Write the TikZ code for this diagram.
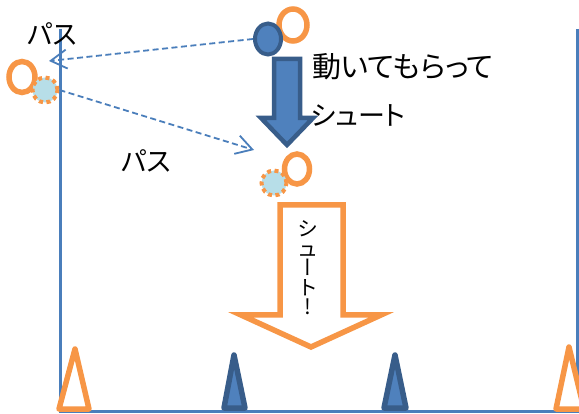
\documentclass[tikz,border=0pt]{standalone}
\usepackage{fontspec}
\newfontfamily\jp[RawFeature=+palt]{Noto Sans CJK JP}
\newfontfamily\jpv[RawFeature=+vert]{Noto Sans CJK JP}
\usetikzlibrary{arrows.meta,shapes.geometric}
\definecolor{fieldline}{HTML}{4A7EBB}
\definecolor{bluefill}{HTML}{4F81BD}
\definecolor{bluedark}{HTML}{385D8A}
\definecolor{orangec}{HTML}{F79646}
\definecolor{ballfill}{HTML}{B7DEE8}
\tikzset{
  field/.style={draw=fieldline,line width=3pt},
  ring/.style={ellipse,draw=orangec,line width=5.5pt,fill=white,inner sep=0pt},
  defender/.style={ellipse,draw=bluedark,line width=4pt,fill=bluefill,inner sep=0pt,minimum width=26pt,minimum height=31pt},
  ball/.style={circle,draw=orangec,line width=4pt,dash pattern=on 4pt off 3.5pt,fill=ballfill,inner sep=0pt,minimum size=25pt},
  passline/.style={draw=fieldline,line width=1.8pt,dash pattern=on 6pt off 3.5pt,-{Straight Barb[length=16pt,width=19pt,line width=1.8pt]}},
  lbl/.style={font=\jp\fontsize{29}{29}\selectfont,inner sep=0pt},
  bluearrow/.style={draw=bluedark,line width=4.5pt,fill=bluefill,line join=miter},
  orangearrow/.style={draw=orangec,line width=5.5pt,fill=white,line join=miter},
  ocone/.style={draw=orangec,line width=5.5pt,fill=white,line join=round},
  bcone/.style={draw=bluedark,line width=5.5pt,fill=bluefill,line join=round},
}
\begin{document}
\begin{tikzpicture}[x=1pt,y=-1pt]
\useasboundingbox (0,0) rectangle (579,414);
\clip (0,0) rectangle (579,414);
% field lines
\coordinate (tl) at (60,29);
\coordinate (bl) at (60,411);
\coordinate (br) at (579,411);
\coordinate (tr) at (577,29);
\coordinate (trb) at (577,411);
\draw[field] (tl) -- (bl) -- (br);
\draw[field] (tr) -- (trb);
% cones
\draw[ocone] (59,409) -- (75,349) -- (89,409) -- cycle;
\draw[bcone] (224,408) -- (234,355) -- (245,408) -- cycle;
\draw[bcone] (384,408) -- (395,355) -- (406,408) -- cycle;
\draw[ocone] (556,409) -- (569,347) -- (584,409) -- cycle;
% players
\node[ring,minimum width=28pt,minimum height=32pt] (ringtop) at (293,25) {};
\node[defender] (def) at (268,39) {};
\node[ring,minimum width=26pt,minimum height=31pt] (ringleft) at (22,77) {};
\node[ball] (ballleft) at (45,90) {};
\node[ring,minimum width=25pt,minimum height=30pt] (ringmid) at (297,169) {};
\node[ball] (ballmid) at (274,183) {};
% pass arrows
\coordinate (tipleft) at (49,61);
\coordinate (tipmid) at (254,150);
\draw[passline] (def.west) -- (tipleft);
\draw[passline] (ballleft.east) -- (tipmid);
% blue block arrow
\draw[bluearrow] (274,59) -- (300,59) -- (300,118) -- (313,118) -- (287,145) -- (261,118) -- (274,118) -- cycle;
% orange block arrow
\draw[orangearrow] (280,205) -- (343,205) -- (343,315) -- (381,315) -- (311,347) -- (241,315) -- (280,315) -- cycle;
% texts
\node[lbl,font=\jp\fontsize{27}{27}\selectfont] (pass1) at (52,34) {パス};
\node[lbl,font=\jp\fontsize{27}{27}\selectfont] (pass2) at (146,161) {パス};
\node[lbl] (move) at (403,67) {動いてもらって};
\node[lbl,font=\jp\fontsize{27}{27}\selectfont] (shoot) at (358,115) {シュート};
\node[font=\jpv\fontsize{21}{19.5}\selectfont,align=center,inner sep=0pt] (vshoot) at (308,268) {シ\\{\jp ュ}\\ー\\ト\\!};
\end{tikzpicture}
\end{document}
